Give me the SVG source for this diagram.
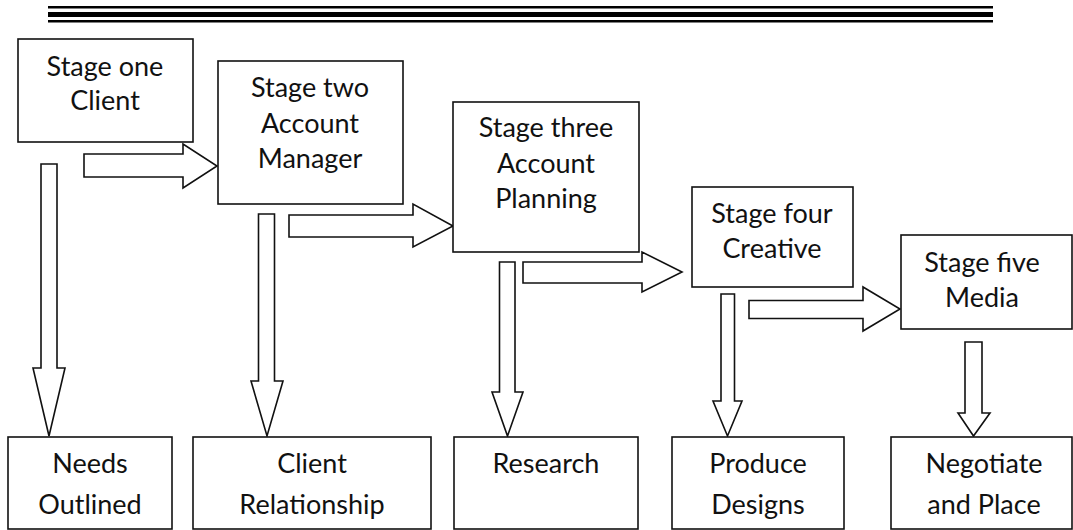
<svg xmlns="http://www.w3.org/2000/svg" width="1073" height="530" viewBox="0 0 1073 530">
<style>
.box{fill:#fff;stroke:#111;stroke-width:1.6}
.arr{fill:#fff;stroke:#111;stroke-width:1.6;stroke-linejoin:miter}
.t{font-family:Lato,"Open Sans",sans-serif;font-size:27px;font-weight:400;fill:#111;text-anchor:middle}
</style>
<rect width="1073" height="530" fill="#fff"/>
<g id="header-rule" fill="#000">
<rect x="48" y="6" width="945" height="2.5"/>
<rect x="48" y="12" width="945" height="5"/>
<rect x="48" y="20" width="945" height="2.5"/>
</g>
<g id="connectors">
<path class="arr" d="M84,154 H183 V144 L217,166 L183,188 V177 H84 Z"/>
<path class="arr" d="M289,215 H413 V204 L453,226 L413,247 V237 H289 Z"/>
<path class="arr" d="M523,262 H642 V252 L682,272 L642,292 V283 H523 Z"/>
<path class="arr" d="M749,300.5 H863 V287 L900,309 L863,331 V318.5 H749 Z"/>
<path class="arr" d="M41,164 V368 H33 L49,436 L65,368 H57 V164 Z"/>
<path class="arr" d="M258.5,214 V381 H251 L267,436 L283,381 H274.5 V214 Z"/>
<path class="arr" d="M499.5,262 V392 H492 L507.5,436 L523,392 H515 V262 Z"/>
<path class="arr" d="M721,294 V401 H713 L727.5,436 L742,401 H734.5 V294 Z"/>
<path class="arr" d="M965,342 V413 H958 L973.5,436 L990,413 H982 V342 Z"/>
</g>
<g id="stage1"><rect class="box" x="18" y="39" width="175" height="103"/>
<text class="t" x="105" y="76">Stage one</text><text class="t" x="105" y="110">Client</text></g>
<g id="stage2"><rect class="box" x="218" y="61" width="185" height="143"/>
<text class="t" x="310" y="97">Stage two</text><text class="t" x="310" y="133">Account</text><text class="t" x="310" y="168">Manager</text></g>
<g id="stage3"><rect class="box" x="453" y="102" width="186" height="150"/>
<text class="t" x="546" y="137">Stage three</text><text class="t" x="546" y="173">Account</text><text class="t" x="546" y="208">Planning</text></g>
<g id="stage4"><rect class="box" x="692" y="187" width="161" height="100"/>
<text class="t" x="772" y="223">Stage four</text><text class="t" x="772" y="258">Creative</text></g>
<g id="stage5"><rect class="box" x="901" y="235" width="171" height="94"/>
<text class="t" x="982" y="272">Stage five</text><text class="t" x="982" y="307">Media</text></g>
<g id="needs"><rect class="box" x="8" y="437" width="164" height="92"/>
<text class="t" x="90" y="473">Needs</text><text class="t" x="90" y="514">Outlined</text></g>
<g id="client"><rect class="box" x="193" y="437" width="238" height="92"/>
<text class="t" x="312" y="473">Client</text><text class="t" x="312" y="514">Relationship</text></g>
<g id="research"><rect class="box" x="454" y="437" width="184" height="92"/>
<text class="t" x="546" y="473">Research</text></g>
<g id="produce"><rect class="box" x="672" y="437" width="172" height="92"/>
<text class="t" x="758" y="473">Produce</text><text class="t" x="758" y="514">Designs</text></g>
<g id="negotiate"><rect class="box" x="891" y="437" width="181" height="92"/>
<text class="t" x="984" y="473">Negotiate</text><text class="t" x="984" y="514">and Place</text></g>
</svg>
